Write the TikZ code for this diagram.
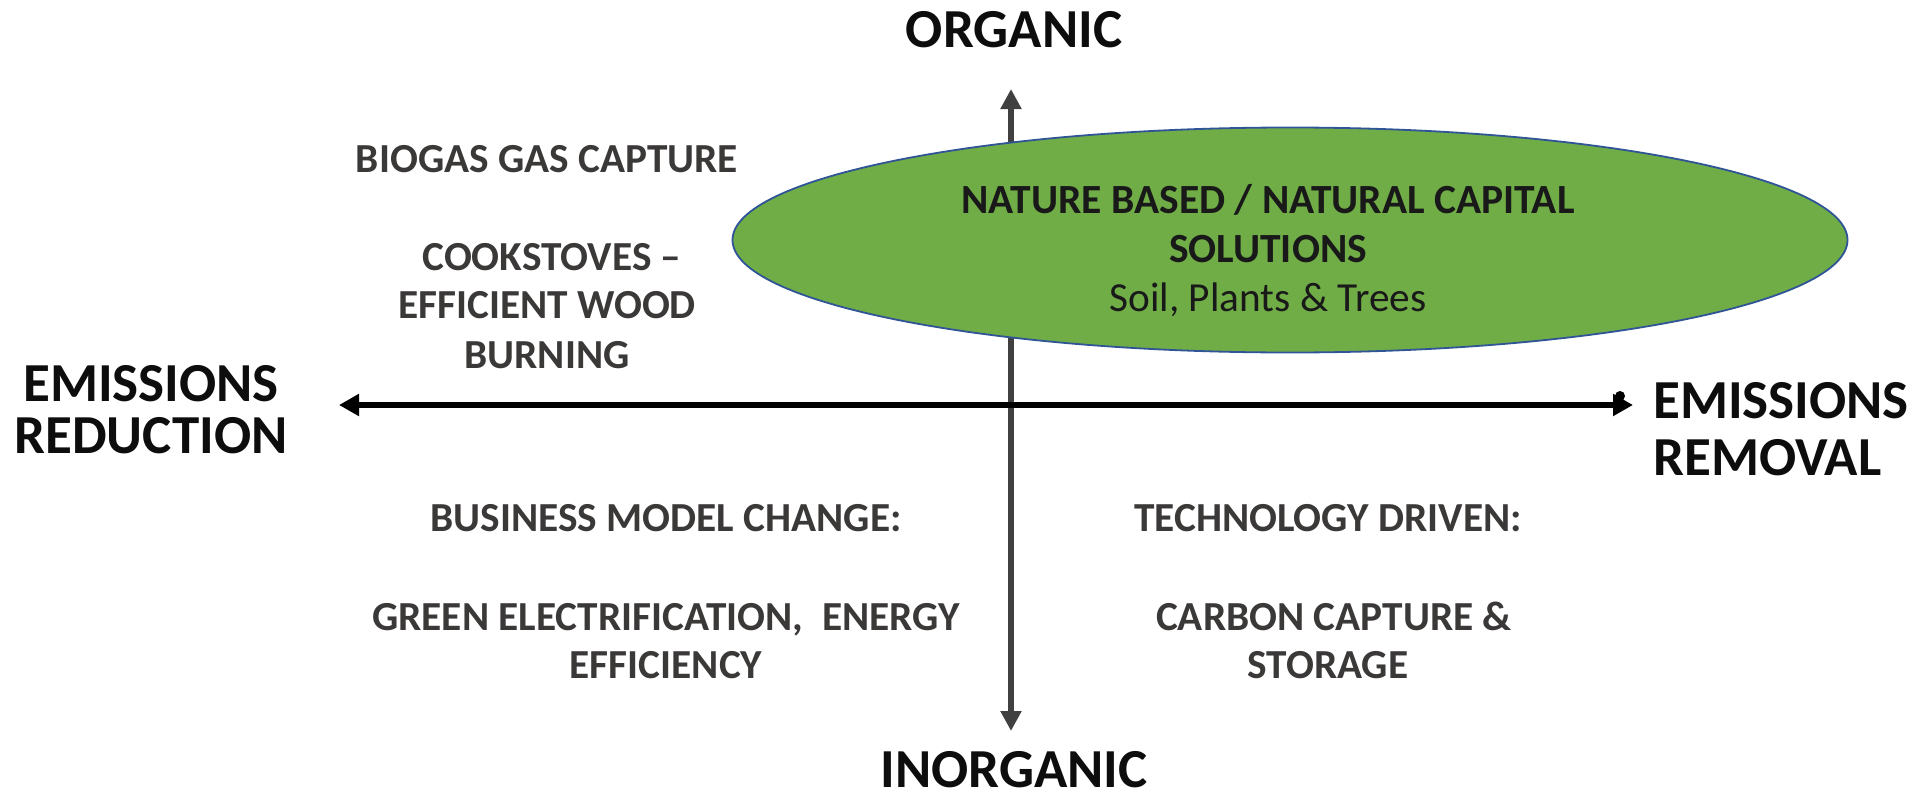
\documentclass[tikz,border=0pt]{standalone}
\usepackage{fontspec}
\setmainfont{Carlito}
\usetikzlibrary{arrows.meta,shapes.geometric}
\definecolor{quadgray}{HTML}{3B3838}
\definecolor{axisgray}{HTML}{404040}
\definecolor{natgreen}{HTML}{70AD47}
\definecolor{natblue}{HTML}{2F5597}
\definecolor{labelblack}{HTML}{0D0D0D}
\tikzset{
  axislabel/.style={font=\fontsize{55}{60}\selectfont\bfseries, text=labelblack, inner sep=0pt, anchor=base},
  quadtext/.style={font=\fontsize{41.3}{49}\selectfont\bfseries, text=quadgray, inner sep=0pt, anchor=base},
  elltext/.style={font=\fontsize{41.5}{49}\selectfont\bfseries, text=black!90, inner sep=0pt, anchor=base},
  ellsub/.style={font=\fontsize{41.3}{49}\selectfont, text=black!90, inner sep=0pt, anchor=base},
  haxis/.style={line width=6pt, black, -{Triangle[length=20pt,width=21pt]}},
  vaxis/.style={line width=6pt, axisgray, {Triangle[length=20pt,width=20pt]}-{Triangle[length=20pt,width=20pt]}},
  natell/.style={ellipse, draw=natblue, line width=1.8pt, fill=natgreen, minimum width=1115pt, minimum height=225pt, inner sep=0pt}
}
\begin{document}
\begin{tikzpicture}[x=1pt,y=-1pt]
\useasboundingbox (0,0) rectangle (1931,795);
% axes
\coordinate (top) at (1011,89);
\coordinate (bottom) at (1011,731);
\coordinate (left) at (339,405);
\coordinate (right) at (1633,405);
\coordinate (mid) at (1011,405);
\draw[vaxis] (top) -- (bottom);
\draw[haxis] (mid) -- (left);
\draw[haxis] (mid) -- (right);
\fill[black] (1620,396) circle (5pt);
% ellipse
\node[natell] (nat) at (1290,240) {};
\node[elltext] (nat1) at (1268,213) {NATURE BASED / NATURAL CAPITAL};
\node[elltext] (nat2) at (1268,262) {SOLUTIONS};
\node[ellsub] (nat3) at (1268,311) {Soil, Plants \& Trees};
% axis labels
\node[axislabel] (org) at (1014,47) {ORGANIC};
\node[axislabel] (inorg) at (1014,787) {INORGANIC};
\node[axislabel] (red1) at (151,401) {EMISSIONS};
\node[axislabel] (red2) at (151,453) {REDUCTION};
\node[axislabel, anchor=base west] (rem1) at (1653,418) {EMISSIONS};
\node[axislabel, anchor=base west] (rem2) at (1653,475) {REMOVAL};
% quadrant texts
\node[quadtext] (bio) at (547,172) {BIOGAS GAS CAPTURE};
\node[quadtext] (cook1) at (552,270) {COOKSTOVES –};
\node[quadtext] (cook2) at (547,318) {EFFICIENT WOOD};
\node[quadtext] (cook3) at (547,368) {BURNING};
\node[quadtext] (bus) at (666,531) {BUSINESS MODEL CHANGE:};
\node[quadtext] (green1) at (666,630) {GREEN ELECTRIFICATION,\ \ ENERGY};
\node[quadtext] (green2) at (666,678) {EFFICIENCY};
\node[quadtext] (tech) at (1328,531) {TECHNOLOGY DRIVEN:};
\node[quadtext] (ccs1) at (1334,630) {CARBON CAPTURE \&};
\node[quadtext] (ccs2) at (1328,678) {STORAGE};
\end{tikzpicture}
\end{document}
